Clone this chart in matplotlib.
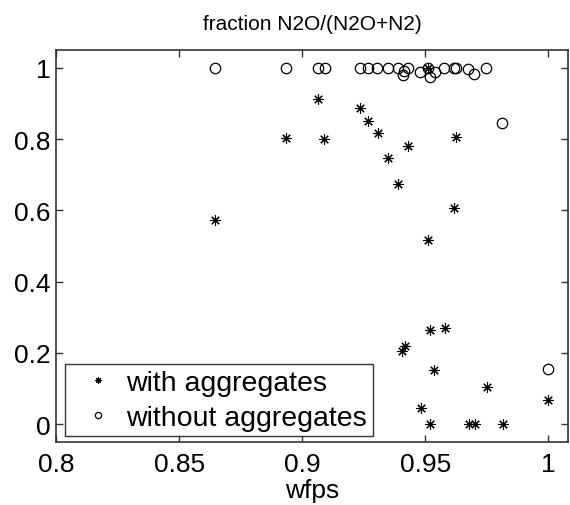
import matplotlib
matplotlib.use('Agg')
import matplotlib.pyplot as plt

# with aggregates (asterisks)
wfps_with = [0.8646, 0.8935, 0.9066, 0.9089, 0.9236, 0.9267, 0.9310, 0.9347,
             0.9388, 0.9432, 0.9615, 0.9625, 0.9513, 0.9518, 0.9581, 0.9419,
             0.9405, 0.9537, 0.9751, 1.0000, 0.9482, 0.9520, 0.9676, 0.9703,
             0.9814, 0.9513]
frac_with = [0.574, 0.802, 0.913, 0.800, 0.887, 0.851, 0.817, 0.748,
             0.673, 0.782, 0.607, 0.805, 0.518, 0.264, 0.269, 0.218,
             0.204, 0.153, 0.105, 0.068, 0.045, 0.000, 0.000, 0.000,
             0.000, 1.000]

# without aggregates (circles)
wfps_without = [0.8646, 0.8935, 0.9066, 0.9093, 0.9236, 0.9268, 0.9304, 0.9350,
                0.9388, 0.9409, 0.9412, 0.9428, 0.9480, 0.9513, 0.9520, 0.9540,
                0.9577, 0.9615, 0.9626, 0.9672, 0.9700, 0.9748, 0.9813, 1.0000]
frac_without = [1.000, 1.000, 1.000, 1.000, 1.000, 1.000, 1.000, 1.000,
                1.000, 0.980, 0.992, 1.000, 0.988, 1.000, 0.974, 0.988,
                1.000, 1.000, 1.000, 0.997, 0.983, 1.000, 0.845, 0.155]

x_ticks = [0.8, 0.85, 0.9, 0.95, 1.0]
x_labels = ['0.8', '0.85', '0.9', '0.95', '1']
y_ticks = [0, 0.2, 0.4, 0.6, 0.8, 1.0]
y_labels = ['0', '0.2', '0.4', '0.6', '0.8', '1']

plt.rcParams['font.family'] = ['Liberation Sans', 'DejaVu Sans']

fig = plt.figure(figsize=(5.70, 5.06), dpi=100)
ax = fig.add_axes([56 / 570, 63 / 506, (568 - 56) / 570, (455 - 63) / 506])

ax.plot(wfps_with, frac_with, linestyle='none', marker=(8, 2, 0),
        markersize=7.5, markeredgewidth=0.8, color='black', label='with aggregates')
ax.plot(wfps_without, frac_without, linestyle='none', marker='o',
        markersize=7.5, markerfacecolor='none', markeredgewidth=0.9,
        markeredgecolor='black', label='without aggregates')

ax.set_xlim(0.8, 1.008)
ax.set_ylim(-0.05, 1.05)
ax.set_xticks(x_ticks)
ax.set_xticklabels(x_labels)
ax.set_yticks(y_ticks)
ax.set_yticklabels(y_labels)
ax.tick_params(direction='in', length=5, width=1, top=True, right=True,
               labelsize=19, color='#333333')
ax.tick_params(axis='x', pad=7)
ax.tick_params(axis='y', pad=4)
for s in ax.spines.values():
    s.set_color('#333333')
    s.set_linewidth(1.2)

ax.set_xlabel('wfps', fontsize=19, labelpad=2)
ax.set_title('fraction N2O/(N2O+N2)', fontsize=15, pad=15)

leg = ax.legend(loc='lower left', bbox_to_anchor=(0.0176, 0.0145), fontsize=20.5,
                frameon=True, fancybox=False, edgecolor='black', markerscale=0.6,
                handlelength=1.9, handletextpad=0.05, borderpad=0.2,
                labelspacing=0.3, borderaxespad=0)
leg.get_frame().set_linewidth(1.0)

fig.savefig('out.png', dpi=100)
